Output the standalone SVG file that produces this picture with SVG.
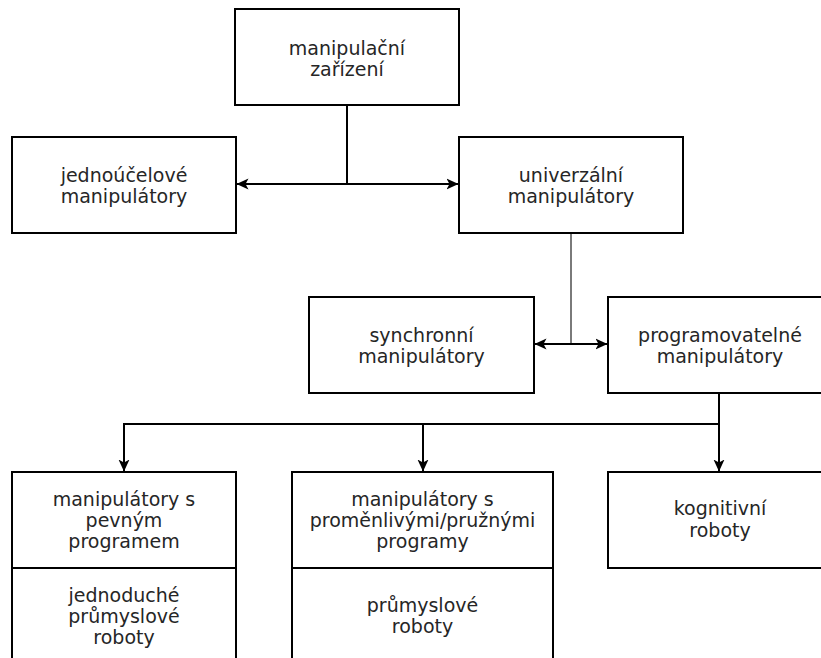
<svg xmlns="http://www.w3.org/2000/svg" width="821" height="658" viewBox="0 0 821 658">
<defs>
<marker id="arr" markerUnits="userSpaceOnUse" markerWidth="12" markerHeight="12" viewBox="0 0 12 12" refX="11.5" refY="6" orient="auto-start-reverse">
<path d="M0,0.5 L12,6 L0,11.5 L3,6 Z" fill="#000"/>
</marker>
<style>
.box{fill:#fff;stroke:#000;stroke-width:2}
.t{font-family:"DejaVu Sans","Liberation Sans",sans-serif;font-size:19px;fill:#262626;text-anchor:middle}
.ln{fill:none;stroke:#000;stroke-width:2}
.gl{fill:none;stroke:#7a7a7a;stroke-width:2}
</style>
</defs>
<rect width="821" height="658" fill="#fff"/>
<g id="connectors">
<path class="ln" d="M347,105 V184"/>
<path class="ln" d="M348,184 H237" marker-end="url(#arr)"/>
<path class="ln" d="M346,184 H458" marker-end="url(#arr)"/>
<path class="gl" d="M571,233 V344"/>
<path class="ln" d="M572,344 H535" marker-end="url(#arr)"/>
<path class="ln" d="M570,344 H607" marker-end="url(#arr)"/>
<path class="ln" d="M719,393 V471" marker-end="url(#arr)"/>
<path class="ln" d="M719,424 H124 V471" marker-end="url(#arr)"/>
<path class="ln" d="M423,424 V471" marker-end="url(#arr)"/>
</g>
<g id="n-zarizeni">
<rect class="box" x="235" y="9" width="224" height="96"/>
<text class="t" x="347" y="55">manipulační</text>
<text class="t" x="347" y="76">zařízení</text>
</g>
<g id="n-jednoucelove">
<rect class="box" x="12" y="137" width="224" height="96"/>
<text class="t" x="124" y="182">jednoúčelové</text>
<text class="t" x="124" y="203">manipulátory</text>
</g>
<g id="n-univerzalni">
<rect class="box" x="459" y="137" width="224" height="96"/>
<text class="t" x="571" y="182">univerzální</text>
<text class="t" x="571" y="203">manipulátory</text>
</g>
<g id="n-synchronni">
<rect class="box" x="309" y="297" width="225" height="96"/>
<text class="t" x="421.5" y="342">synchronní</text>
<text class="t" x="421.5" y="363">manipulátory</text>
</g>
<g id="n-programovatelne">
<rect class="box" x="608" y="297" width="224" height="96"/>
<text class="t" x="720" y="342">programovatelné</text>
<text class="t" x="720" y="363">manipulátory</text>
</g>
<g id="n-pevny">
<rect class="box" x="12" y="472" width="224" height="96"/>
<rect class="box" x="12" y="568" width="224" height="96"/>
<text class="t" x="124" y="506">manipulátory s</text>
<text class="t" x="124" y="527">pevným</text>
<text class="t" x="124" y="548">programem</text>
<text class="t" x="124" y="602">jednoduché</text>
<text class="t" x="124" y="623">průmyslové</text>
<text class="t" x="124" y="644">roboty</text>
</g>
<g id="n-promenlive">
<rect class="box" x="292" y="472" width="261" height="96"/>
<rect class="box" x="292" y="568" width="261" height="96"/>
<text class="t" x="422.5" y="506">manipulátory s</text>
<text class="t" x="422.5" y="527">proměnlivými/pružnými</text>
<text class="t" x="422.5" y="548">programy</text>
<text class="t" x="422.5" y="612">průmyslové</text>
<text class="t" x="422.5" y="633">roboty</text>
</g>
<g id="n-kognitivni">
<rect class="box" x="608" y="472" width="224" height="96"/>
<text class="t" x="720" y="515">kognitivní</text>
<text class="t" x="720" y="537">roboty</text>
</g>
</svg>
